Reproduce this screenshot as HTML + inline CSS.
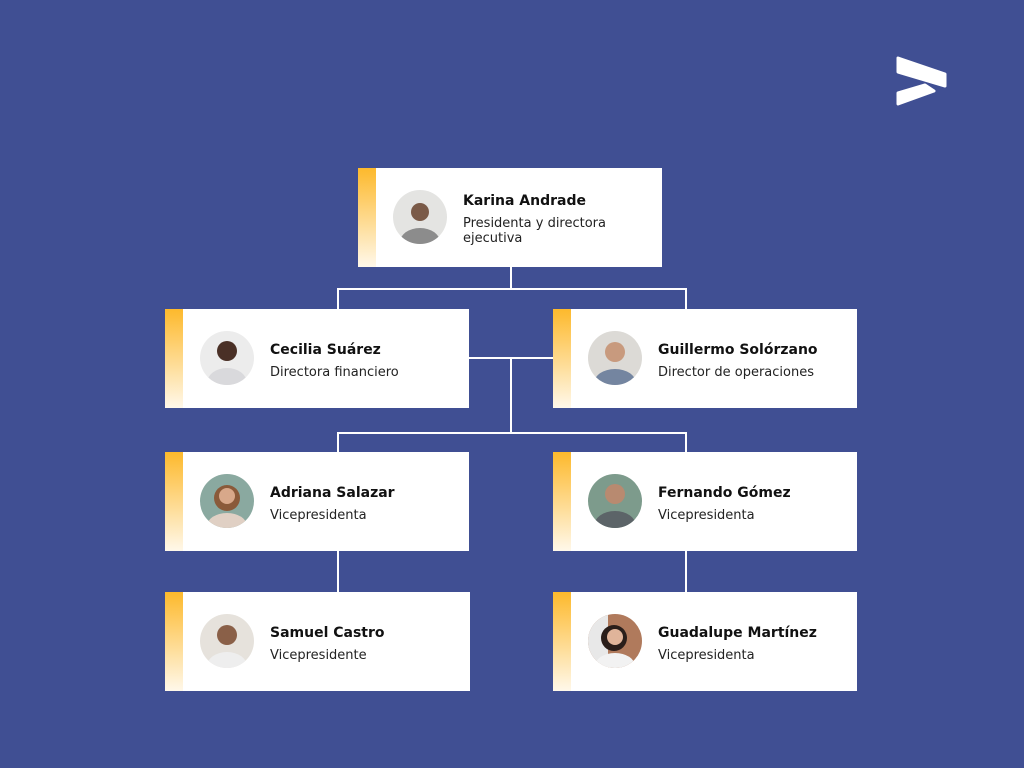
<!DOCTYPE html>
<html><head><meta charset="utf-8"><style>
*{margin:0;padding:0;box-sizing:border-box}
body{width:1024px;height:768px;background:#404f93;position:relative;overflow:hidden;font-family:"DejaVu Sans","Liberation Sans",sans-serif}
.box{position:absolute;width:304px;height:99px;background:#fff}
.bar{position:absolute;left:0;top:0;width:18px;height:100%;background:linear-gradient(#fdb92c,#fff8ea)}
.av{position:absolute;left:35px;top:22px;width:54px;height:54px;border-radius:50%;overflow:hidden}
.tx{position:absolute;left:105px;top:1px;height:100%;display:flex;flex-direction:column;justify-content:center}
.n{font-size:14px;font-weight:bold;color:#111;line-height:20px;margin-bottom:5px}
.s{font-size:13px;color:#222;line-height:15px}
.l{position:absolute;background:#fff}
</style></head><body>
<svg style="position:absolute;left:890px;top:52px" width="62" height="58" viewBox="0 0 62 58">
<path d="M8 6 L55 22 L55 34 L8 20 Z" fill="#fff" stroke="#fff" stroke-width="3" stroke-linejoin="round"/>
<path d="M8 41 L35 33 L44 39 L8 52 Z" fill="#fff" stroke="#fff" stroke-width="3" stroke-linejoin="round"/>
</svg>

<div class="l" style="left:510px;top:267px;width:2px;height:23px"></div>
<div class="l" style="left:337px;top:288px;width:350px;height:2px"></div>
<div class="l" style="left:337px;top:288px;width:2px;height:21px"></div>
<div class="l" style="left:685px;top:288px;width:2px;height:21px"></div>
<div class="l" style="left:469px;top:357px;width:84px;height:2px"></div>
<div class="l" style="left:510px;top:357px;width:2px;height:77px"></div>
<div class="l" style="left:337px;top:432px;width:350px;height:2px"></div>
<div class="l" style="left:337px;top:432px;width:2px;height:20px"></div>
<div class="l" style="left:685px;top:432px;width:2px;height:20px"></div>
<div class="l" style="left:337px;top:551px;width:2px;height:41px"></div>
<div class="l" style="left:685px;top:551px;width:2px;height:41px"></div>

<div class="box" style="left:358px;top:168px"><div class="bar"></div>
<svg class="av" viewBox="0 0 54 54"><rect width="54" height="54" fill="#e4e4e2"/><circle cx="27" cy="22" r="9" fill="#7a5a48"/><ellipse cx="27" cy="52" rx="20" ry="14" fill="#8c8c8c"/></svg>
<div class="tx"><div class="n">Karina Andrade</div><div class="s">Presidenta y directora<br>ejecutiva</div></div></div>

<div class="box" style="left:165px;top:309px;width:304px"><div class="bar"></div>
<svg class="av" viewBox="0 0 54 54"><rect width="54" height="54" fill="#ececec"/><circle cx="27" cy="20" r="10" fill="#4a3026"/><ellipse cx="27" cy="52" rx="20" ry="15" fill="#d9d9dc"/></svg>
<div class="tx"><div class="n">Cecilia Suárez</div><div class="s">Directora financiero</div></div></div>

<div class="box" style="left:553px;top:309px"><div class="bar"></div>
<svg class="av" viewBox="0 0 54 54"><rect width="54" height="54" fill="#dcdad6"/><circle cx="27" cy="21" r="10" fill="#c89a7e"/><ellipse cx="27" cy="52" rx="21" ry="14" fill="#7485a0"/></svg>
<div class="tx"><div class="n">Guillermo Solórzano</div><div class="s">Director de operaciones</div></div></div>

<div class="box" style="left:165px;top:452px"><div class="bar"></div>
<svg class="av" viewBox="0 0 54 54"><rect width="54" height="54" fill="#8aa9a0"/><circle cx="27" cy="24" r="13" fill="#8a5a3a"/><circle cx="27" cy="22" r="8" fill="#d8a88a"/><ellipse cx="27" cy="52" rx="20" ry="13" fill="#e0d0c4"/></svg>
<div class="tx"><div class="n">Adriana Salazar</div><div class="s">Vicepresidenta</div></div></div>

<div class="box" style="left:553px;top:452px"><div class="bar"></div>
<svg class="av" viewBox="0 0 54 54"><rect width="54" height="54" fill="#7d9b8c"/><circle cx="27" cy="20" r="10" fill="#b88a70"/><ellipse cx="27" cy="52" rx="21" ry="15" fill="#5c6468"/></svg>
<div class="tx"><div class="n">Fernando Gómez</div><div class="s">Vicepresidenta</div></div></div>

<div class="box" style="left:165px;top:592px;width:305px"><div class="bar"></div>
<svg class="av" viewBox="0 0 54 54"><rect width="54" height="54" fill="#e6e2dc"/><circle cx="27" cy="21" r="10" fill="#8a6048"/><ellipse cx="27" cy="52" rx="20" ry="14" fill="#eeeeee"/></svg>
<div class="tx"><div class="n">Samuel Castro</div><div class="s">Vicepresidente</div></div></div>

<div class="box" style="left:553px;top:592px"><div class="bar"></div>
<svg class="av" viewBox="0 0 54 54"><rect width="54" height="54" fill="#b07a5c"/><rect width="20" height="54" fill="#e8e8e8"/><circle cx="26" cy="24" r="13" fill="#2a1e1a"/><circle cx="27" cy="23" r="8" fill="#e0b49a"/><ellipse cx="27" cy="52" rx="20" ry="13" fill="#f2f2f2"/></svg>
<div class="tx"><div class="n">Guadalupe Martínez</div><div class="s">Vicepresidenta</div></div></div>
</body></html>
